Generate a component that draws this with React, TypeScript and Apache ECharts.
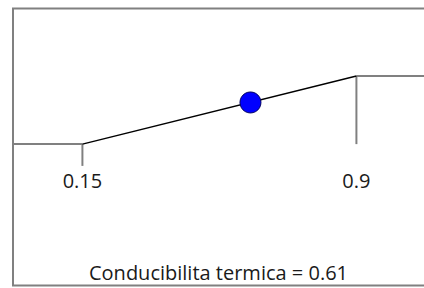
import React, { useEffect, useRef } from "react";
import * as echarts from "echarts";

const xRange = [-0.04, 1.085];
const yRange = [-2.07, 2.0];
const breakpoints = [0.15, 0.9];
const levels = [0, 1];
const tickBottom = -0.32;
const labelLevel = -0.54;
const currentValue = 0.61;
const currentMembership = 0.612;
const captionText = "Conducibilita termica = 0.61";

const GRAY = "#808080";
const FONT = "'Open Sans', 'Noto Sans', sans-serif";

export default function App() {
  const ref = useRef<HTMLDivElement>(null);
  useEffect(() => {
    if (!ref.current) return;
    const chart = echarts.init(ref.current, undefined, { renderer: "svg" });
    const mkLine = (data: number[][], color: string, width: number) => ({
      type: "line",
      data,
      symbol: "none",
      silent: true,
      lineStyle: { color, width, type: "solid", opacity: 1 },
      itemStyle: { color },
      z: 2,
    });
    chart.setOption({
      animation: false,
      grid: { left: 13, right: 0, top: 8, bottom: 3 },
      xAxis: {
        type: "value",
        min: xRange[0],
        max: xRange[1],
        axisLine: { show: false },
        axisTick: { show: false },
        axisLabel: { show: false },
        splitLine: { show: false },
      },
      yAxis: {
        type: "value",
        min: yRange[0],
        max: yRange[1],
        axisLine: { show: false },
        axisTick: { show: false },
        axisLabel: { show: false },
        splitLine: { show: false },
      },
      series: [
        mkLine([[xRange[0], levels[0]], [breakpoints[0], levels[0]]], GRAY, 2),
        mkLine([[breakpoints[1], levels[1]], [xRange[1], levels[1]]], GRAY, 2),
        mkLine([[breakpoints[0], levels[0]], [breakpoints[0], tickBottom]], GRAY, 2),
        mkLine([[breakpoints[1], levels[1]], [breakpoints[1], levels[0]]], GRAY, 2),
        mkLine([[breakpoints[0], levels[0]], [breakpoints[1], levels[1]]], "#000000", 1.5),
        {
          type: "scatter",
          data: breakpoints.map((b) => [b, labelLevel]),
          symbolSize: 0,
          silent: true,
          itemStyle: { opacity: 1 },
          label: {
            show: true,
            position: "inside",
            formatter: (p: any) => String(p.value[0]),
            color: "#1a1a1a",
            fontSize: 20,
            fontFamily: FONT,
          },
        },
        {
          type: "scatter",
          data: [[currentValue, currentMembership]],
          symbol: "circle",
          symbolSize: 21,
          silent: true,
          itemStyle: { color: "#0000ff", borderColor: "#000060", borderWidth: 1, opacity: 1 },
          z: 5,
        },
      ],
      graphic: [
        {
          type: "rect",
          shape: { x: 13, y: 8.5, width: 500, height: 277 },
          style: { fill: "none", stroke: GRAY, lineWidth: 2 },
          silent: true,
          z: 10,
        },
        {
          type: "text",
          x: 218.5,
          y: 272,
          style: {
            text: captionText,
            fill: "#1a1a1a",
            fontSize: 20,
            fontFamily: FONT,
            textAlign: "center",
            textVerticalAlign: "middle",
          },
          silent: true,
        },
      ],
    });
    return () => chart.dispose();
  }, []);
  return (
    <div
      ref={ref}
      style={{ position: "fixed", left: 0, top: 0, width: 424, height: 288, background: "#fff" }}
    />
  );
}
